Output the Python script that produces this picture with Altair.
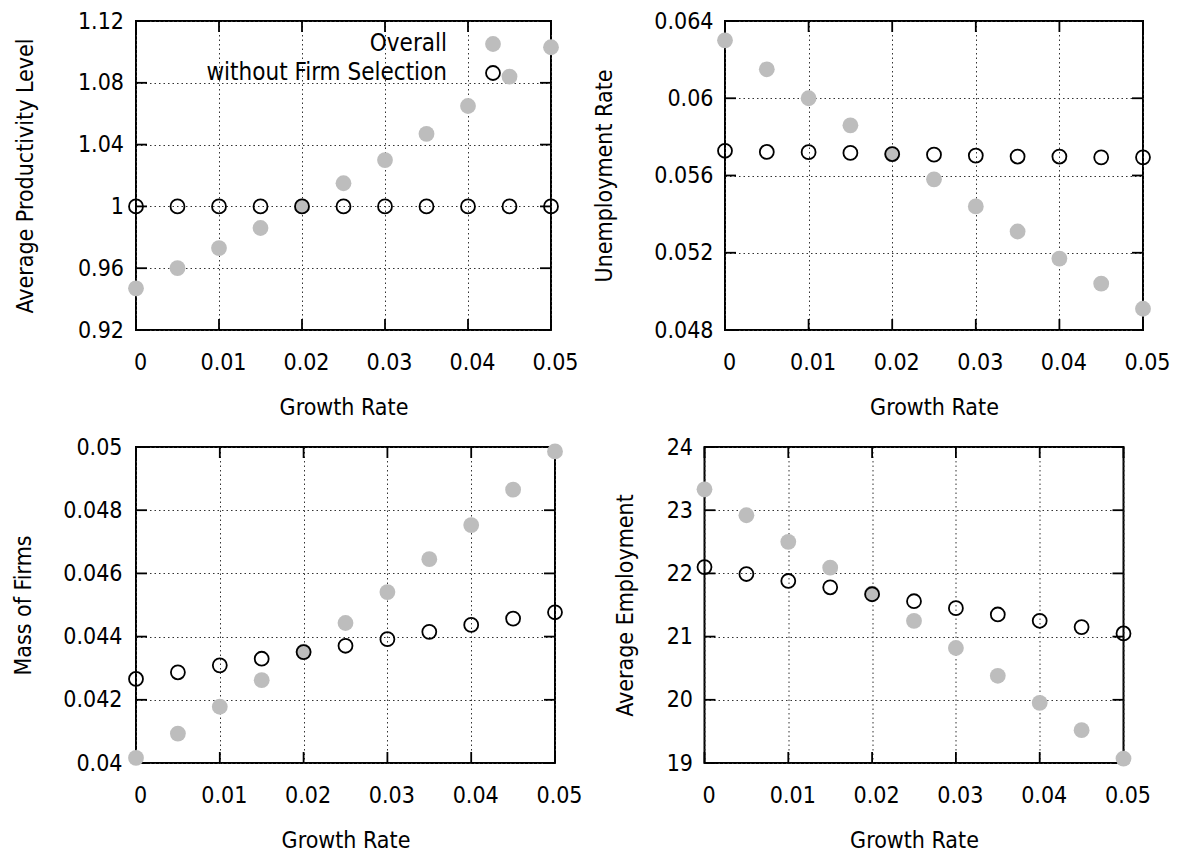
import altair as alt
import pandas as pd

FONT = "DejaVu Sans Condensed, DejaVu Sans"
FS = 23

growth = [0, 0.005, 0.01, 0.015, 0.02, 0.025, 0.03, 0.035, 0.04, 0.045, 0.05]
series = ["Overall", "without Firm Selection"]
x_ticks = [0, 0.01, 0.02, 0.03, 0.04, 0.05]

prod_overall = [0.947, 0.960, 0.973, 0.986, 1.000, 1.015, 1.030, 1.047, 1.065, 1.084, 1.103]
prod_nosel = [1.000, 1.000, 1.000, 1.000, 1.000, 1.000, 1.000, 1.000, 1.000, 1.000, 1.000]
prod_ticks = [0.92, 0.96, 1.0, 1.04, 1.08, 1.12]

unemp_overall = [0.0630, 0.0615, 0.0600, 0.0586, 0.0571, 0.0558, 0.0544, 0.0531, 0.0517, 0.0504, 0.0491]
unemp_nosel = [0.05728, 0.05722, 0.05721, 0.05717, 0.05711, 0.05708, 0.05703, 0.05698, 0.05698, 0.05694, 0.05694]
unemp_ticks = [0.048, 0.052, 0.056, 0.060, 0.064]

mass_overall = [0.04016, 0.04093, 0.04178, 0.04262, 0.04352, 0.04443, 0.04541, 0.04645, 0.04753, 0.04865, 0.04986]
mass_nosel = [0.04266, 0.04287, 0.04309, 0.04330, 0.04351, 0.04371, 0.04392, 0.04415, 0.04437, 0.04457, 0.04477]
mass_ticks = [0.040, 0.042, 0.044, 0.046, 0.048, 0.050]

emp_overall = [23.33, 22.92, 22.50, 22.09, 21.68, 21.25, 20.82, 20.38, 19.95, 19.52, 19.07]
emp_nosel = [22.10, 21.99, 21.88, 21.78, 21.67, 21.56, 21.45, 21.35, 21.25, 21.15, 21.05]
emp_ticks = [19, 20, 21, 22, 23, 24]

TL = 11  # inward tick length
GRAY = "#bdbdbd"


def panel(ytitle, overall, nosel, yticks, w, h, ylp, ytp, legend=False):
    df = pd.DataFrame({
        "g": growth + growth,
        "v": overall + nosel,
        "s": [series[0]] * len(growth) + [series[1]] * len(growth),
    })
    xs = alt.Scale(domain=[x_ticks[0], x_ticks[-1]], nice=False, zero=False)
    ys = alt.Scale(domain=[yticks[0], yticks[-1]], nice=False, zero=False)
    xax = alt.Axis(values=x_ticks, format=".3~g", title="Growth Rate", grid=True,
                   ticks=False, tickSize=0, domain=False, labelPadding=21.5,
                   titlePadding=22, labelOffset=4, labelFlush=False)
    yax = alt.Axis(values=yticks, format=".3~g", title=ytitle, grid=True,
                   ticks=False, tickSize=0, domain=False, labelPadding=ylp,
                   titlePadding=ytp, labelFlush=False)
    X = alt.X("g:Q", scale=xs, axis=xax)
    Y = alt.Y("v:Q", scale=ys, axis=yax)
    base = alt.Chart(df)
    filled = base.transform_filter(alt.datum.s == series[0]).mark_circle(
        size=250, color=GRAY, opacity=1).encode(x=X, y=Y)
    hollow = base.transform_filter(alt.datum.s == series[1]).mark_point(
        shape="circle", size=195, filled=False, color="black", strokeWidth=1.8,
        opacity=1).encode(x=X, y=Y)

    xt = alt.Chart(pd.DataFrame({"g": x_ticks}))
    yt = alt.Chart(pd.DataFrame({"v": yticks}))
    tick_style = dict(color="black", strokeWidth=1.8)
    t_top = xt.mark_rule(**tick_style).encode(x=X, y=alt.value(0), y2=alt.value(TL))
    t_bot = xt.mark_rule(**tick_style).encode(x=X, y=alt.value(h - TL), y2=alt.value(h))
    t_left = yt.mark_rule(**tick_style).encode(y=Y, x=alt.value(0), x2=alt.value(TL))
    t_right = yt.mark_rule(**tick_style).encode(y=Y, x=alt.value(w - TL), x2=alt.value(w))

    layers = [t_top, t_bot, t_left, t_right, filled, hollow]
    if legend:
        l1 = alt.Chart(pd.DataFrame({"label": [series[0]]}))
        l2 = alt.Chart(pd.DataFrame({"label": [series[1]]}))
        layers += [
            l1.mark_text(align="right", baseline="middle", font=FONT, fontSize=24,
                         color="black").encode(text="label:N", x=alt.value(311), y=alt.value(23)),
            l2.mark_text(align="right", baseline="middle", font=FONT, fontSize=24,
                         color="black").encode(text="label:N", x=alt.value(311), y=alt.value(52)),
            l1.mark_circle(size=250, color=GRAY, opacity=1).encode(
                x=alt.value(357), y=alt.value(23)),
            l2.mark_point(shape="circle", size=195, filled=False, color="black",
                          strokeWidth=1.8, opacity=1).encode(x=alt.value(357), y=alt.value(52)),
        ]
    return alt.layer(*layers).properties(width=w, height=h)


p1 = panel("Average Productivity Level", prod_overall, prod_nosel, prod_ticks, 415, 309, 12.5, 39.5, legend=True)
p2 = panel("Unemployment Rate", unemp_overall, unemp_nosel, unemp_ticks, 418, 309, 12, 37)
p3 = panel("Mass of Firms", mass_overall, mass_nosel, mass_ticks, 419, 316, 14, 27.3)
p4 = panel("Average Employment", emp_overall, emp_nosel, emp_ticks, 419, 316, 12, 28.7)

row1 = alt.hconcat(p1, p2, spacing=12)
row2 = alt.hconcat(p3, p4, spacing=28.5)

chart = alt.concat(row1, row2, columns=1, align="none", spacing=14).properties(
    padding={"left": 3, "top": 1, "right": 0, "bottom": 0}
).configure_view(
    stroke="black", strokeWidth=2
).configure_axis(
    labelFont=FONT, titleFont=FONT, labelFontSize=FS, titleFontSize=FS,
    labelColor="black", titleColor="black", titleFontWeight="normal",
    gridColor="#333333", gridDash=[1.5, 3], gridWidth=1, gridOpacity=1
)

chart.save("out.html", embed_options={"renderer": "svg", "actions": False})
